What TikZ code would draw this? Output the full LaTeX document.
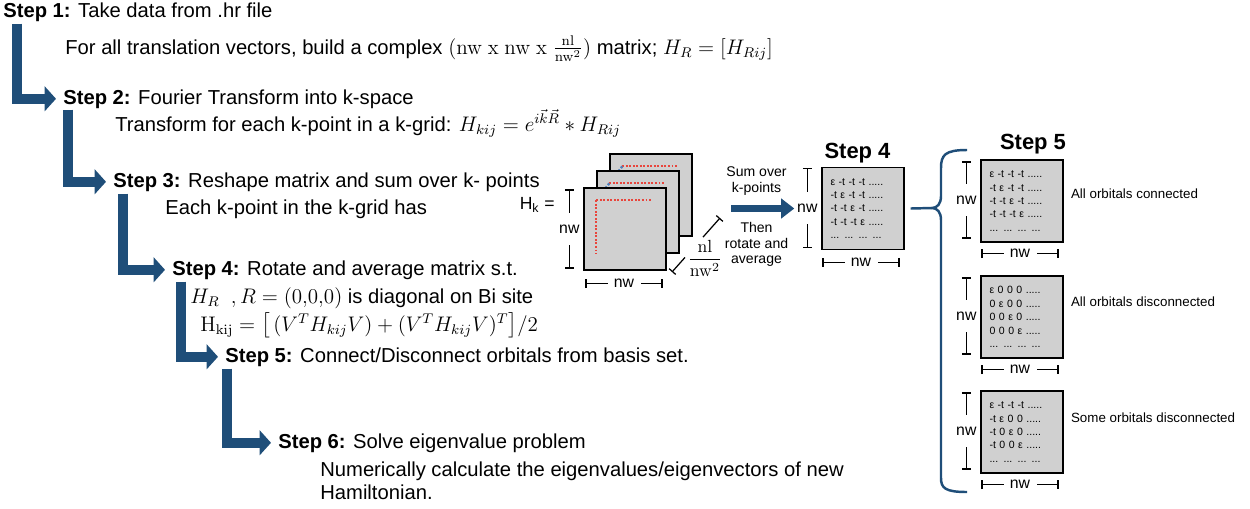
\documentclass[tikz,border=0pt]{standalone}
\usepackage{amsmath}
\usepackage[no-math]{fontspec}
\setmainfont{Liberation Sans}
\usepackage{xcolor}
\usetikzlibrary{positioning, arrows.meta, calc}

\definecolor{stepblue}{HTML}{1F4E79}
\definecolor{matgray}{HTML}{D0D0D0}
\definecolor{crossred}{HTML}{E8453C}
\definecolor{crossblue}{HTML}{4F81BD}

\begin{document}
\begin{tikzpicture}[
  x=0.02cm, y=-0.02cm,
  txt/.style={anchor=base west, inner sep=0pt, font=\fontsize{11.5}{13.5}\selectfont},
  steparrow/.style={draw=stepblue, line width=6pt, line join=miter, shorten >=0.14cm,
    -{Triangle[length=6.5pt, width=14pt]}},
  sumarrow/.style={draw=stepblue, line width=4pt, -{Triangle[length=7.5pt, width=11pt]}},
  matbox/.style={draw, fill=matgray, line width=0.8pt, minimum width=1.64cm,
    minimum height=1.64cm, inner sep=0pt},
  entries/.style={matbox, text width=1.3cm, align=left, font=\fontsize{6}{7.6}\selectfont},
  crossline/.style={crossred, densely dotted, line width=1pt},
  diagline/.style={crossblue, densely dotted, line width=1.3pt},
  dimline/.style={{Bar[width=5pt]}-{Bar[width=5pt]}, line width=0.7pt},
  gapv/.style={fill=white, inner xsep=0.5pt, inner ysep=0pt, minimum height=0.64cm,
    font=\fontsize{9}{10}\selectfont},
  gaph/.style={fill=white, inner xsep=0pt, inner ysep=0.5pt, minimum width=0.66cm,
    font=\fontsize{9}{10}\selectfont},
  note/.style={inner sep=0pt, align=center, font=\fontsize{8}{9}\selectfont},
  orbit/.style={anchor=west, inner sep=0pt, font=\fontsize{7.6}{9}\selectfont},
  steplabel/.style={inner sep=0pt, font=\fontsize{12.5}{14}\selectfont\bfseries},
  braceline/.style={draw=stepblue, line width=1.4pt}
]
  \useasboundingbox (0,0) rectangle (1250,508);

  % Steps on the left
  \node (s1) [txt] at (3,17)    {\textbf{Step 1:} Take data from .hr file};
  \node (t1) [txt] at (65,54)   {For all translation vectors, build a complex
    $(\mathrm{nw\ x\ nw\ x\ }\frac{\mathrm{nl}}{\mathrm{nw^2}})$ matrix; $H_R=[H_{Rij}]$};
  \node (s2) [txt] at (63,104)  {\textbf{Step 2:} Fourier Transform into k-space};
  \node (t2) [txt] at (115,131) {Transform for each k-point in a k-grid: $H_{kij}=e^{i\vec{k}\vec{R}}*H_{Rij}$};
  \node (s3) [txt] at (113,187) {\textbf{Step 3:} Reshape matrix and sum over k- points};
  \node (t3) [txt] at (165,214) {Each k-point in the k-grid has};
  \node (s4) [txt] at (172,275) {\textbf{Step 4:} Rotate and average matrix s.t.};
  \node (t4a) [txt] at (190,303) {$H_R\ \ ,R=(0{,}0{,}0)$ is diagonal on Bi site};
  \node (t4b) [txt] at (200,331) {$\mathrm{H_{kij}}=\big[\,(V^TH_{kij}V)+(V^TH_{kij}V)^T\big]/2$};
  \node (s5) [txt] at (225,362) {\textbf{Step 5:} Connect/Disconnect orbitals from basis set.};
  \node (s6) [txt] at (278,448) {\textbf{Step 6:} Solve eigenvalue problem};
  \node (t6) [txt, anchor=north west, align=left] at (320,461)
    {Numerically calculate the eigenvalues/eigenvectors of new\\Hamiltonian.};

  % Step arrows
  \draw [steparrow] ([xshift=0.28cm, yshift=-0.04cm]s1.south west) |- (s2.west);
  \draw [steparrow] ([xshift=0.10cm, yshift=-0.02cm]s2.south west) |- (s3.west);
  \draw [steparrow] ([xshift=0.20cm, yshift=-0.04cm]s3.south west) |- (s4.west);
  \draw [steparrow] ([xshift=0.18cm, yshift=-0.04cm]s4.south west) |- (s5.west);
  \draw [steparrow] ([xshift=0.04cm, yshift=-0.04cm]s5.south west) |- (s6.west);

  % H_k stack
  \node (kback) [matbox] at (651,195) {};
  \coordinate (xback) at ([shift={(0.26cm,-0.26cm)}]kback.north west);
  \draw [crossline] (xback) -- ++(1.1cm,0);
  \draw [crossline] (xback) -- ++(0,-1.08cm);
  \draw [diagline] (xback) -- ++(-0.26cm,-0.34cm);
  \node (kmid) [matbox] at (638,212) {};
  \coordinate (xmid) at ([shift={(0.26cm,-0.26cm)}]kmid.north west);
  \draw [crossline] (xmid) -- ++(1.1cm,0);
  \draw [crossline] (xmid) -- ++(0,-1.08cm);
  \draw [diagline] (xmid) -- ++(-0.26cm,-0.34cm);
  \node (kfront) [matbox] at (625,229) {};
  \coordinate (xfront) at ([shift={(0.26cm,-0.26cm)}]kfront.north west);
  \draw [crossline] (xfront) -- ++(1.1cm,0);
  \draw [crossline] (xfront) -- ++(0,-1.08cm);

  \node (hk) [anchor=east, inner sep=0pt, font=\fontsize{10}{12}\selectfont] at (555,205) {H\textsubscript{k} =};
  \draw [dimline] ([xshift=-0.28cm, yshift=-0.04cm]kfront.north west)
    -- ([xshift=-0.28cm, yshift=0.04cm]kfront.south west) node [midway, gapv] {nw};
  \draw [dimline] ([xshift=0.04cm, yshift=-0.26cm]kfront.south west)
    -- ([xshift=-0.08cm, yshift=-0.26cm]kfront.south east) node [midway, gaph] {nw};

  \coordinate (dlow) at (672,272);
  \coordinate (dlowend) at (685,257.4);
  \coordinate (dupend) at (703,237.1);
  \coordinate (dup) at (720,218);
  \draw [{Bar[width=5pt]}-, line width=0.7pt] (dlow) -- (dlowend);
  \draw [-{Bar[width=5pt]}, line width=0.7pt] (dupend) -- (dup);
  \node (depth) [inner sep=0pt, font=\fontsize{10}{12}\selectfont] at (705,258)
    {$\dfrac{\mathrm{nl}}{\mathrm{nw}^2}$};

  % Step 4 matrix
  \node (m4) [entries] at (863,208.5)
    {ε -t -t -t .....\\-t ε -t -t .....\\-t -t ε -t .....\\-t -t -t ε .....\\... ... ... ...};
  \node (st4) [steplabel, above=0.07cm of m4, xshift=-0.11cm] {Step 4};
  \draw [dimline] ([xshift=-0.28cm, yshift=-0.02cm]m4.north west)
    -- ([xshift=-0.28cm, yshift=0.04cm]m4.south west) node [midway, gapv] {nw};
  \draw [dimline] ([xshift=0.02cm, yshift=-0.24cm]m4.south west)
    -- ([xshift=-0.1cm, yshift=-0.24cm]m4.south east) node [midway, gaph] {nw};

  \coordinate (sumstart) at ([xshift=-1.8cm]m4.west);
  \draw [sumarrow] (sumstart) -- ([xshift=-0.54cm]m4.west)
    node [pos=0.4, above=0.2cm, note] (sumtop) {Sum over\\k-points}
    node [pos=0.4, below=0.2cm, note] (sumbot) {Then\\rotate and\\average};

  % Brace
  \coordinate (btop) at (967,150);
  \coordinate (bnib) at (932,208);
  \coordinate (bbot) at (967,492);
  \draw [braceline] (btop) .. controls (945,150) and (941,155) .. (941,168) -- (941,196)
    .. controls (941,204) and (937,208) .. (bnib)
    .. controls (937,208) and (941,212) .. (941,220) -- (941,478)
    .. controls (941,488) and (945,492) .. (bbot);
  \draw [braceline] ([xshift=0.12cm]m4.east) -- (bnib);

  % Step 5 matrices
  \node (m5a) [entries] at (1022,201)
    {ε -t -t -t .....\\-t ε -t -t .....\\-t -t ε -t .....\\-t -t -t ε .....\\... ... ... ...};
  \node (m5b) [entries] at (1022,317)
    {ε 0 0 0 .....\\0 ε 0 0 .....\\0 0 ε 0 .....\\0 0 0 ε .....\\... ... ... ...};
  \node (m5c) [entries] at (1022,432)
    {ε -t -t -t .....\\-t ε 0 0 .....\\-t 0 ε 0 .....\\-t 0 0 ε .....\\... ... ... ...};
  \node (st5) [steplabel, above=0.09cm of m5a, xshift=0.22cm] {Step 5};

  \draw [dimline] ([xshift=-0.28cm, yshift=-0.04cm]m5a.north west)
    -- ([xshift=-0.28cm, yshift=0.08cm]m5a.south west) node [midway, gapv] {nw};
  \draw [dimline] ([xshift=0.02cm, yshift=-0.22cm]m5a.south west)
    -- ([xshift=-0.1cm, yshift=-0.22cm]m5a.south east) node [midway, gaph] {nw};
  \draw [dimline] ([xshift=-0.28cm, yshift=-0.04cm]m5b.north west)
    -- ([xshift=-0.28cm, yshift=0.08cm]m5b.south west) node [midway, gapv] {nw};
  \draw [dimline] ([xshift=0.02cm, yshift=-0.22cm]m5b.south west)
    -- ([xshift=-0.1cm, yshift=-0.22cm]m5b.south east) node [midway, gaph] {nw};
  \draw [dimline] ([xshift=-0.28cm, yshift=-0.04cm]m5c.north west)
    -- ([xshift=-0.28cm, yshift=0.08cm]m5c.south west) node [midway, gapv] {nw};
  \draw [dimline] ([xshift=0.02cm, yshift=-0.22cm]m5c.south west)
    -- ([xshift=-0.1cm, yshift=-0.22cm]m5c.south east) node [midway, gaph] {nw};

  \node (la) [orbit, right=0.14cm of m5a, yshift=0.14cm] {All orbitals connected};
  \node (lb) [orbit, right=0.14cm of m5b, yshift=0.3cm] {All orbitals disconnected};
  \node (lc) [orbit, right=0.14cm of m5c, yshift=0.28cm] {Some orbitals disconnected};

\end{tikzpicture}
\end{document}
